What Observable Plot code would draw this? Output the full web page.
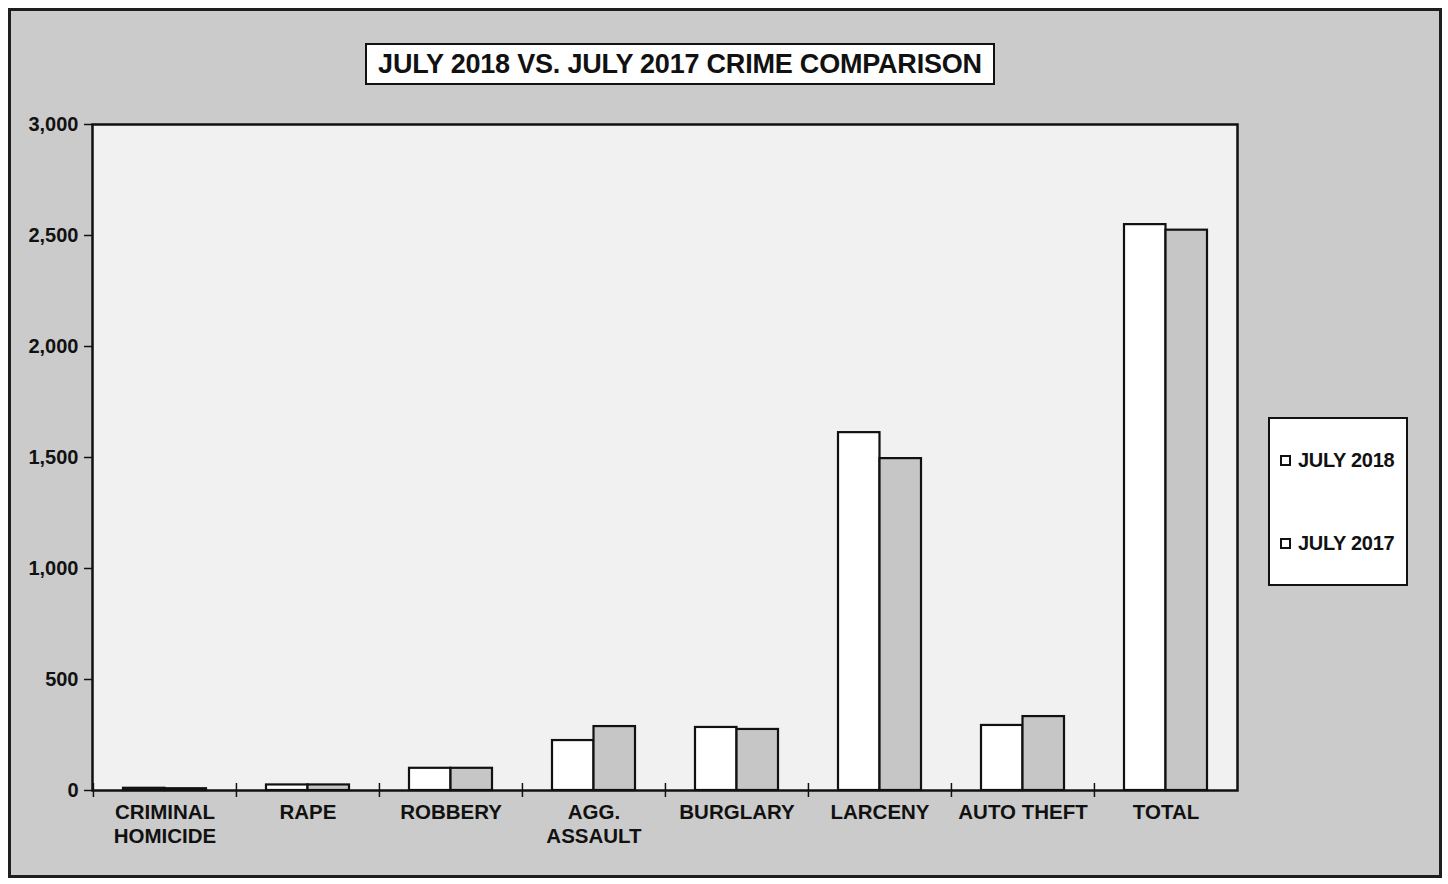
<!DOCTYPE html>
<html>
<head>
<meta charset="utf-8">
<script src="https://cdn.jsdelivr.net/npm/d3@7"></script>
<script src="https://cdn.jsdelivr.net/npm/@observablehq/plot@0.6"></script>
<style>
  html, body { margin: 0; padding: 0; background: #ffffff; }
  body { width: 1448px; height: 884px; position: relative; overflow: hidden; font-family: "Liberation Sans", Arial, sans-serif; }
  #sheet { position: absolute; left: 8px; top: 8px; width: 1428px; height: 864px; border: 3px solid #1e1e1e; background: #cbcbcb; }
  #chart { position: absolute; left: 0; top: 0; }
  #title { position: absolute; left: 365px; top: 43px; width: 626px; height: 38px; border: 2px solid #111; background: #fff;
           font-weight: bold; font-size: 27px; line-height: 38px; text-align: center; color: #111; letter-spacing: -0.2px; }
  #legend { position: absolute; left: 1268px; top: 417px; width: 136px; height: 165px; border: 2px solid #111; background: #fff; }
  .li { position: absolute; left: 10px; font-size: 20px; font-weight: bold; color: #111; display: flex; align-items: center; letter-spacing: -0.3px; }
  .sw { width: 7px; height: 7px; border: 2px solid #111; margin-right: 7px; }
</style>
</head>
<body>
<div id="sheet"></div>
<div id="chart"></div>
<div id="title">JULY 2018 VS. JULY 2017 CRIME COMPARISON</div>
<div id="legend"></div>
<script>
const categories = ["CRIMINAL\nHOMICIDE", "RAPE", "ROBBERY", "AGG.\nASSAULT", "BURGLARY", "LARCENY", "AUTO THEFT", "TOTAL"];
const july2018 = [10, 25, 100, 225, 284, 1612, 293, 2549];
const july2017 = [8, 25, 100, 288, 275, 1495, 333, 2524];
const seriesNames = ["JULY 2018", "JULY 2017"];
const seriesFills = ["#ffffff", "#c6c6c6"];
const yTicks = [0, 500, 1000, 1500, 2000, 2500, 3000];

const rows = [];
categories.forEach((c, i) => {
  rows.push({category: c, series: seriesNames[0], value: july2018[i]});
  rows.push({category: c, series: seriesNames[1], value: july2017[i]});
});

const W = 1448, H = 884;
const mL = 92, mR = 211, mT = 124, mB = 94;
const step = (W - mL - mR) / categories.length;
const padInner = 0.42;
const half = step * (1 - padInner) / 2;

const chart = Plot.plot({
  width: W, height: H,
  marginLeft: mL, marginRight: mR, marginTop: mT, marginBottom: mB,
  style: {background: "transparent", fontFamily: "'Liberation Sans', Arial, sans-serif", color: "#111"},
  x: {domain: categories, paddingInner: padInner, paddingOuter: padInner / 2, label: null},
  y: {domain: [0, 3000], label: null},
  color: {domain: seriesNames, range: seriesFills},
  marks: [
    Plot.frame({fill: "#f1f1f1", stroke: null}),
    Plot.barY(rows.filter(d => d.series === seriesNames[0]), {x: "category", y: "value", fill: "series", stroke: "#111", strokeWidth: 2.2, insetRight: half}),
    Plot.barY(rows.filter(d => d.series === seriesNames[1]), {x: "category", y: "value", fill: "series", stroke: "#111", strokeWidth: 2.2, insetLeft: half}),
    Plot.frame({stroke: "#111", strokeWidth: 2.5}),
    Plot.axisY({ticks: yTicks, tickFormat: d3.format(","), tickSize: 8, tickPadding: 6, fontSize: 20, fontWeight: "bold", stroke: "#111", strokeWidth: 1.5, label: null}),
    Plot.axisX({tickSize: 0, tickPadding: 12, fontSize: 20.5, fontWeight: "bold", lineHeight: 1.15, label: null}),
    Plot.axisX({text: null, tickSize: 14, dx: -step / 2, dy: -7, stroke: "#111", strokeWidth: 1.5, label: null})
  ]
});
document.getElementById("chart").appendChild(chart);

const legend = document.getElementById("legend");
const legendTops = [30, 113];
seriesNames.forEach((s, i) => {
  const el = document.createElement("div");
  el.className = "li";
  el.style.top = legendTops[i] + "px";
  el.innerHTML = `<span class="sw" style="background:${seriesFills[0]}"></span><span>${s}</span>`;
  legend.appendChild(el);
});
</script>
</body>
</html>
